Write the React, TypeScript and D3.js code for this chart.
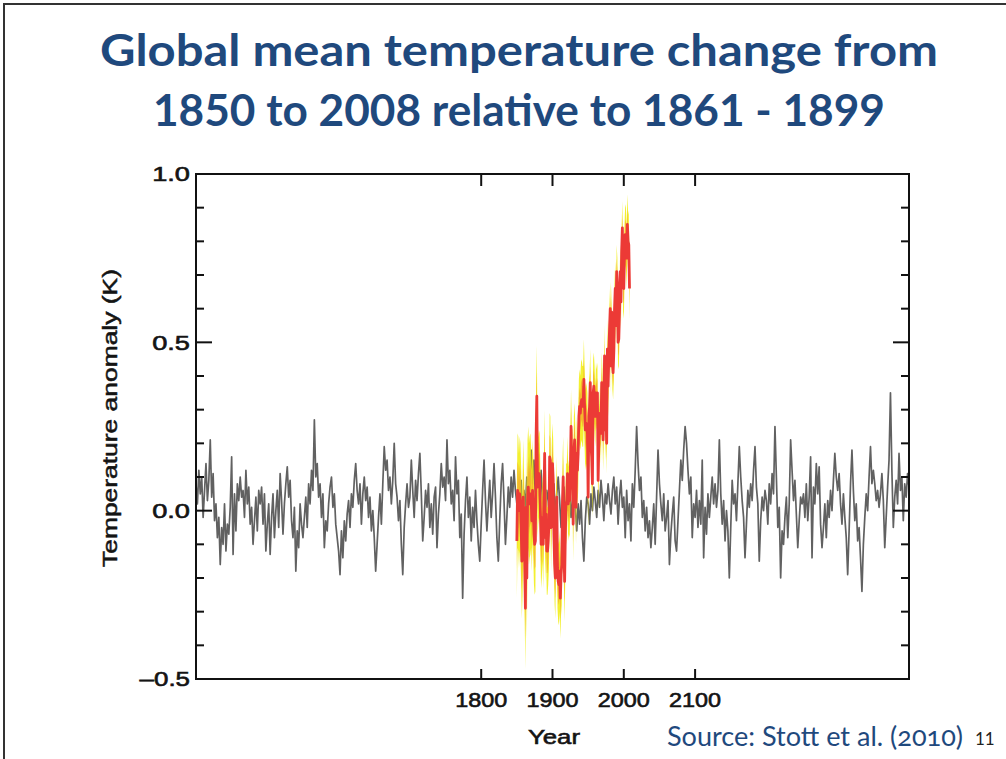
import React from "react";
import * as d3 from "d3";

// Control run (black): one value every 2 years, 1400..2400
const CONTROL_START = 1400;
const CONTROL_STEP = 2;
const controlRun = [
  0.08, 0.02, 0.12, 0.05, 0.10, -0.02, 0.06, 0.14, 0.03, 0.09, 0.21, 0.04, 0.11, -0.03, 0.02, -0.08, -0.02, -0.16, -0.05, -0.10, 0.02, -0.12, -0.04, -0.07, 0.01,
  0.16, -0.13, 0.05, -0.06, 0.08, 0.03, 0.10, 0.04, 0.06, -0.02, 0.12, 0.02, 0.07, -0.04, 0.01, -0.10, -0.03, 0.04, -0.06, 0.06, 0.02, 0.07, -0.04, 0.05, -0.12,
  -0.04, 0.02, -0.13, -0.02, 0.05, -0.08, 0.00, 0.06, -0.05, 0.11, 0.03, -0.07, 0.02, 0.08, 0.13, 0.04, 0.09, -0.03, -0.08, 0.01, -0.18, -0.06, -0.11, 0.02, -0.04,
  -0.08, -0.02, 0.04, -0.05, 0.08, 0.02, 0.12, 0.06, 0.27, 0.10, 0.14, 0.04, 0.08, -0.02, 0.05, -0.11, -0.03, -0.06, 0.02, 0.07, 0.10, 0.01, 0.05, -0.04, -0.08,
  -0.12, -0.19, -0.06, -0.14, -0.03, -0.09, -0.01, 0.03, -0.05, 0.05, 0.01, 0.09, 0.14, 0.06, 0.02, 0.08, -0.04, 0.05, 0.10, 0.03, 0.07, -0.02, 0.04, -0.06, 0.00,
  -0.08, -0.18, -0.10, -0.02, 0.05, -0.04, 0.08, 0.19, 0.12, 0.15, 0.06, 0.10, 0.02, 0.09, 0.20, 0.08, 0.04, -0.03, 0.03, -0.10, -0.19, -0.05, 0.02, 0.08, 0.01,
  0.04, 0.15, 0.06, -0.02, 0.09, 0.03, 0.11, 0.17, 0.05, -0.09, -0.02, 0.06, 0.01, 0.08, -0.05, 0.02, -0.07, 0.04, 0.07, -0.11, -0.01, 0.05, 0.14, 0.07, 0.10,
  0.03, 0.21, 0.08, 0.12, 0.02, 0.06, -0.03, 0.16, 0.05, 0.09, -0.08, -0.01, -0.26, -0.07, 0.03, 0.10, -0.02, 0.04, -0.09, 0.01, -0.05, 0.06, -0.03, -0.10, -0.15,
  -0.04, 0.06, 0.15, 0.03, -0.06, 0.02, 0.09, -0.02, 0.05, 0.14, 0.04, -0.08, -0.15, -0.03, 0.08, 0.14, 0.03, -0.10, -0.02, 0.07, 0.01, 0.10, 0.04, 0.12, 0.06,
  0.02, -0.05, 0.04, 0.09, -0.03, 0.06, 0.01, 0.10, 0.05, 0.13, 0.18, 0.08, 0.15, 0.04, 0.11, 0.20, 0.07, 0.12, 0.02, 0.09, -0.01, 0.06, 0.03, -0.04, 0.05,
  0.01, 0.08, -0.02, 0.05, 0.10, 0.03, -0.05, 0.02, 0.07, -0.03, 0.04, 0.00, 0.06, -0.02, 0.03, 0.08, 0.01, -0.06, 0.02, -0.04, 0.03, -0.08, -0.15, -0.03, 0.04,
  0.02, -0.04, 0.05, 0.00, 0.07, 0.03, -0.02, 0.06, 0.01, 0.09, 0.04, -0.03, 0.05, 0.02, 0.08, 0.03, -0.01, 0.06, 0.10, 0.02, 0.07, -0.04, 0.04, 0.09, 0.01,
  0.04, -0.08, 0.06, -0.03, 0.02, -0.09, 0.08, 0.01, 0.12, 0.25, 0.14, 0.06, 0.10, -0.02, 0.03, -0.06, 0.01, -0.08, -0.03, -0.11, -0.05, 0.02, -0.10, 0.04, 0.18,
  0.08, 0.02, -0.03, 0.05, -0.06, -0.02, 0.03, -0.16, -0.07, -0.01, 0.04, -0.09, -0.12, -0.03, 0.06, 0.15, 0.09, 0.18, 0.25, 0.20, 0.12, 0.05, 0.10, -0.08, 0.02,
  -0.02, 0.06, -0.05, 0.03, -0.04, 0.15, -0.14, 0.01, -0.07, 0.05, -0.02, 0.04, 0.10, 0.02, 0.08, 0.01, 0.06, 0.21, 0.05, -0.04, 0.03, -0.09, 0.00, -0.06, -0.20,
  -0.05, 0.09, 0.02, 0.05, -0.03, 0.08, 0.19, 0.10, 0.03, -0.02, -0.14, -0.04, 0.06, 0.01, 0.08, 0.03, 0.12, 0.19, 0.07, 0.02, -0.15, -0.03, 0.04, 0.00, 0.06,
  0.03, -0.04, 0.08, 0.02, 0.11, 0.05, 0.25, 0.10, -0.05, 0.01, -0.20, -0.06, -0.10, -0.02, 0.04, -0.08, 0.02, 0.21, 0.12, 0.03, 0.09, -0.01, -0.11, -0.03, 0.04,
  0.02, 0.05, -0.02, 0.08, -0.03, 0.04, 0.16, -0.14, 0.07, 0.02, 0.14, 0.05, 0.13, -0.04, -0.11, -0.05, 0.02, -0.08, 0.03, -0.02, 0.06, 0.00, 0.09, 0.17, 0.10,
  0.06, 0.11, 0.02, -0.04, 0.05, -0.02, -0.08, -0.19, -0.06, 0.08, 0.18, 0.06, -0.03, 0.02, -0.09, -0.05, -0.14, -0.24, -0.10, -0.02, 0.05, 0.00, 0.10, 0.19, 0.08,
  0.12, 0.08, 0.03, 0.06, 0.01, 0.05, 0.11, 0.03, -0.11, -0.02, 0.07, 0.15, 0.35, 0.12, -0.05, 0.04, 0.09, 0.02, 0.17, 0.06, 0.10, -0.03, 0.08, 0.04, 0.11,
  0.07,
];

// Observed annual anomalies 1850..2008 relative to 1861-1899 (red)
const OBS_START = 1850;
const observed = [
  -0.09, 0.06, 0.05, 0.00, 0.05, 0.03, -0.04, -0.15, -0.08, 0.04,
  -0.06, -0.15, -0.29, 0.01, -0.20, 0.03, 0.07, 0.02, 0.04, 0.05,
  0.04, -0.03, 0.06, 0.01, -0.07, -0.10, -0.09, 0.22, 0.34, 0.07,
  0.09, 0.11, 0.10, 0.00, -0.10, -0.07, -0.02, -0.10, 0.04, 0.17,
  -0.08, -0.01, -0.12, -0.12, -0.09, -0.04, 0.16, 0.15, -0.05, 0.07,
  0.14, 0.09, -0.07, -0.16, -0.20, -0.04, 0.04, -0.17, -0.21, -0.22,
  -0.18, -0.26, -0.19, -0.16, 0.03, 0.10, -0.10, -0.21, -0.07, 0.02,
  0.03, 0.11, 0.02, 0.04, 0.03, 0.11, 0.25, 0.14, 0.13, -0.04,
  0.17, 0.21, 0.14, 0.01, 0.17, 0.12, 0.17, 0.28, 0.31, 0.29,
  0.32, 0.33, 0.31, 0.31, 0.39, 0.31, 0.24, 0.26, 0.25, 0.23,
  0.04, 0.28, 0.31, 0.38, 0.19, 0.16, 0.08, 0.35, 0.37, 0.33,
  0.28, 0.35, 0.33, 0.35, 0.09, 0.20, 0.25, 0.29, 0.23, 0.38,
  0.33, 0.21, 0.31, 0.46, 0.24, 0.30, 0.20, 0.48, 0.37, 0.46,
  0.54, 0.60, 0.43, 0.59, 0.44, 0.41, 0.47, 0.60, 0.66, 0.55,
  0.71, 0.67, 0.50, 0.51, 0.59, 0.71, 0.62, 0.77, 0.84, 0.67,
  0.66, 0.76, 0.82, 0.81, 0.75, 0.85, 0.80, 0.79, 0.66,
];
// half-width of the yellow uncertainty band, one value per decade from 1850
const obsUncertainty = [0.17, 0.18, 0.15, 0.13, 0.13, 0.12, 0.12, 0.11, 0.11, 0.12, 0.1, 0.09, 0.09, 0.08, 0.08, 0.09];

const yMajorTicks = [-0.5, 0, 0.5, 1.0];
const yTickLabels = ["\u20130.5", "0.0", "0.5", "1.0"];
const xTicks = [1800, 1900, 2000, 2100];

const TITLE_LINES = ["Global mean temperature change from", "1850 to 2008 relative to 1861 - 1899"];

const W = 1006;
const H = 759;
const M = { left: 196, right: 909, top: 174, bottom: 679 };

export default function App() {
  const x = d3.scaleLinear().domain([1400, 2400]).range([M.left, M.right]);
  const y = d3.scaleLinear().domain([-0.5, 1.0]).range([M.bottom, M.top]);

  const controlLine = d3
    .line<number>()
    .x((d, i) => x(CONTROL_START + i * CONTROL_STEP))
    .y((d) => y(d));

  const unc = (i: number) => obsUncertainty[Math.floor(i / 10)];
  const band = d3
    .area<number>()
    .x((d, i) => x(OBS_START + i))
    .y0((d, i) => y(d - unc(i)))
    .y1((d, i) => y(d + unc(i)));
  const innerBand = d3
    .area<number>()
    .x((d, i) => x(OBS_START + i))
    .y0((d, i) => y(d - unc(i) * 0.5))
    .y1((d, i) => y(d + unc(i) * 0.5));
  const obsLine = d3
    .line<number>()
    .x((d, i) => x(OBS_START + i))
    .y((d) => y(d));

  const yMinor = y.ticks(15).filter((t) => !yMajorTicks.some((m) => Math.abs(m - t) < 1e-6));
  const axisFont = "'Liberation Sans', Arial, Helvetica, sans-serif";
  const ink = "#141414";
  const blue = "#1f497d";

  return (
    <svg width={W} height={H} style={{ position: "absolute", left: 0, top: 0, background: "#fff" }}>
      <rect x={4} y={4} width={W + 10} height={H + 10} fill="#fff" stroke="#333" strokeWidth={2} />

      {TITLE_LINES.map((t, i) => (
        <text
          key={i}
          x={519}
          y={66 + i * 60}
          textAnchor="middle"
          fontFamily="Lato, 'Open Sans', sans-serif"
          fontWeight={700}
          fontSize={44}
          fill={blue}
          textLength={i === 0 ? 838 : 732}
          lengthAdjust="spacingAndGlyphs"
        >
          {t}
        </text>
      ))}

      {/* control run */}
      <path d={controlLine(controlRun) || ""} fill="none" stroke="#3a3a3a" strokeWidth={1.7} strokeOpacity={0.8} strokeLinejoin="round" />

      {/* observations with uncertainty */}
      <path d={band(observed) || ""} fill="#f2ee1a" fillOpacity={0.9} />
      <path d={innerBand(observed) || ""} fill="#f6a52c" fillOpacity={0.75} />
      <path d={obsLine(observed) || ""} fill="none" stroke="#ec3a36" strokeWidth={2.8} strokeLinejoin="round" />

      {/* frame */}
      <rect x={M.left} y={M.top} width={M.right - M.left} height={M.bottom - M.top} fill="none" stroke="#111" strokeWidth={2} />

      {/* y ticks, both sides */}
      {yMajorTicks.map((t) => (
        <g key={"M" + t}>
          <line x1={M.left} x2={M.left + 16} y1={y(t)} y2={y(t)} stroke="#111" strokeWidth={2} />
          <line x1={M.right} x2={M.right - 16} y1={y(t)} y2={y(t)} stroke="#111" strokeWidth={2} />
        </g>
      ))}
      {yMinor.map((t) => (
        <g key={"m" + t}>
          <line x1={M.left} x2={M.left + 8} y1={y(t)} y2={y(t)} stroke="#111" strokeWidth={2} />
          <line x1={M.right} x2={M.right - 8} y1={y(t)} y2={y(t)} stroke="#111" strokeWidth={2} />
        </g>
      ))}
      {yMajorTicks.map((t, i) => (
        <text
          key={"l" + t}
          x={190}
          y={y(t)}
          dy="0.36em"
          textAnchor="end"
          fontFamily={axisFont}
          fontSize={20}
          fill={ink}
          stroke={ink}
          strokeWidth={0.6}
          textLength={yTickLabels[i].length * 12.6}
          lengthAdjust="spacingAndGlyphs"
        >
          {yTickLabels[i]}
        </text>
      ))}

      {/* x ticks, top and bottom */}
      {xTicks.map((t) => (
        <g key={"x" + t}>
          <line x1={x(t)} x2={x(t)} y1={M.bottom} y2={M.bottom - 10} stroke="#111" strokeWidth={2} />
          <line x1={x(t)} x2={x(t)} y1={M.top} y2={M.top + 12} stroke="#111" strokeWidth={2} />
          <text
            x={x(t)}
            y={707}
            textAnchor="middle"
            fontFamily={axisFont}
            fontSize={20}
            fill={ink}
            stroke={ink}
            strokeWidth={0.6}
            textLength={String(t).length * 13}
            lengthAdjust="spacingAndGlyphs"
          >
            {t}
          </text>
        </g>
      ))}

      <text x={554} y={744} textAnchor="middle" fontFamily={axisFont} fontSize={21} fill={ink} stroke={ink} strokeWidth={0.6} textLength={52} lengthAdjust="spacingAndGlyphs">
        Year
      </text>
      <text
        transform={`translate(117, 418) rotate(-90)`}
        textAnchor="middle"
        fontFamily={axisFont}
        fontSize={20}
        fill={ink}
        stroke={ink}
        strokeWidth={0.5}
        textLength={298}
        lengthAdjust="spacingAndGlyphs"
      >
        Temperature anomaly (K)
      </text>

      <text
        x={667}
        y={746}
        fontFamily="Lato, 'Open Sans', sans-serif"
        fontSize={26}
        fill={blue}
        style={{ fontVariantNumeric: "oldstyle-nums" }}
        textLength={296}
        lengthAdjust="spacingAndGlyphs"
      >
        Source: Stott et al. (2010)
      </text>
      <text x={975} y={745} fontFamily="Lato, 'Open Sans', sans-serif" fontSize={17} fill="#222">
        11
      </text>
    </svg>
  );
}
